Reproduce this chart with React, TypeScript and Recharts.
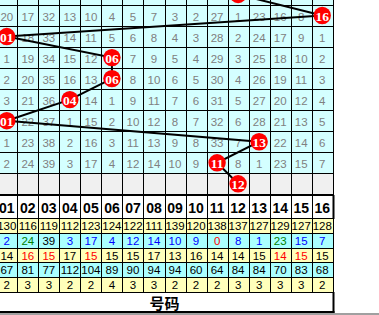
import React from 'react';
import { ComposedChart, Scatter, XAxis, YAxis, ReferenceLine } from 'recharts';

// ---------- data ----------
const ballNumbers = [1, 2, 3, 4, 5, 6, 7, 8, 9, 10, 11, 12, 13, 14, 15, 16];

// winning blue ball per draw row (first row is only partly visible, last row is the grey forecast row)
const hitBalls = [12, 16, 1, 6, 6, 4, 1, 13, 11, 12];

// omission (遗漏) values per draw row, columns 01..16 (null where the ball hit)
const missRowTop = [19, 16, 31, 12, 9, 3, 4, 6, 2, 1, 26, null, 22, 15, 7, 15];
const missRow1 = [20, 17, 32, 13, 10, 4, 5, 7, 3, 2, 27, 1, 23, 16, 8, null];
const missRow2 = [null, 18, 33, 14, 11, 5, 6, 8, 4, 3, 28, 2, 24, 17, 9, 1];
const missRow3 = [1, 19, 34, 15, 12, null, 7, 9, 5, 4, 29, 3, 25, 18, 10, 2];
const missRow4 = [2, 20, 35, 16, 13, null, 8, 10, 6, 5, 30, 4, 26, 19, 11, 3];
const missRow5 = [3, 21, 36, null, 14, 1, 9, 11, 7, 6, 31, 5, 27, 20, 12, 4];
const missRow6 = [null, 22, 37, 1, 15, 2, 10, 12, 8, 7, 32, 6, 28, 21, 13, 5];
const missRow7 = [1, 23, 38, 2, 16, 3, 11, 13, 9, 8, 33, 7, null, 22, 14, 6];
const missRow8 = [2, 24, 39, 3, 17, 4, 12, 14, 10, 9, null, 8, 1, 23, 15, 7];
const missRowForecast = [null, null, null, null, null, null, null, null, null, null, null, null, null, null, null, null];

// statistics rows
const statTimes = [130, 116, 119, 112, 123, 124, 122, 111, 139, 120, 138, 137, 127, 129, 127, 128];
const statCurMiss = [2, 24, 39, 3, 17, 4, 12, 14, 10, 9, 0, 8, 1, 23, 15, 7];
const statAvgMiss = [14, 16, 15, 17, 15, 15, 15, 17, 13, 16, 14, 14, 15, 14, 15, 15];
const statMaxMiss = [67, 81, 77, 112, 104, 89, 90, 94, 94, 60, 64, 84, 84, 70, 83, 68];
const statMaxRun = [2, 3, 3, 2, 2, 4, 3, 3, 2, 2, 2, 3, 3, 3, 3, 2];
const footerLabel = '号码';

// ---------- layout ----------
const W = 379;
const COL_W = 21.03;
const X_MIN = 0.6776;
const X_MAX = X_MIN + W / COL_W;
const TREND_H = 195;
const ROW_H = 21.04;
const Y_MIN = -0.7367;
const Y_MAX = Y_MIN + TREND_H / ROW_H;
const STATS_H = 120;
const HEAD_H = 23;
const FOOT_H = 19;
const STAT_ROW_H = 14.8;

const TREND_BG = '#d4ffff';
const GREY_BG = '#f0f0f0';
const YELLOW_BG = '#ffffbb';
const CYAN_BG = '#aaffff';

const pad = (n: number) => (n < 10 ? '0' + n : String(n));

const missRows = [
  missRowTop, missRow1, missRow2, missRow3, missRow4, missRow5, missRow6, missRow7, missRow8, missRowForecast,
];

const trendCells = missRows.flatMap((row, i) =>
  ballNumbers.map((c, j) => ({
    x: c,
    y: i - 1,
    label: row[j] == null ? null : String(row[j]),
    bg: i === missRows.length - 1 ? GREY_BG : TREND_BG,
  }))
);

const hitPoints = hitBalls.map((n, i) => ({ x: n, y: i - 1, label: pad(n) }));

const curMissColor = (v: number, avg: number) => {
  if (v === 0) return '#ff0000';
  if (v <= avg * 1.2) return '#0000ff';
  if (v <= avg * 2) return '#008000';
  return '#000000';
};

const statRows = [statTimes, statCurMiss, statAvgMiss, statMaxMiss, statMaxRun];
const statCells = statRows.flatMap((row, k) =>
  ballNumbers.map((c, j) => {
    let color = '#000';
    if (k === 1) color = curMissColor(row[j], statAvgMiss[j]);
    if (k === 2 && statCurMiss[j] >= statAvgMiss[j]) color = '#ff0000';
    return {
      x: c,
      y: k,
      label: String(row[j]),
      color,
      bg: k % 2 === 0 ? YELLOW_BG : CYAN_BG,
    };
  })
);

// ---------- shapes ----------
const TrendCell = (props: any) => {
  const { cx, cy, payload } = props;
  const x0 = Math.round(cx - COL_W / 2);
  const x1 = Math.round(cx + COL_W / 2);
  const y0 = Math.round(cy - ROW_H / 2);
  const y1 = Math.round(cy + ROW_H / 2);
  return (
    <g>
      <rect x={x0 + 0.5} y={y0 + 0.5} width={x1 - x0} height={y1 - y0} fill={payload.bg} stroke="#000" strokeWidth={1} />
      {payload.label != null && cy > 0 && (
        <text
          x={cx}
          y={cy + 1}
          textAnchor="middle"
          dominantBaseline="central"
          fontFamily="'Liberation Sans', Arial, sans-serif"
          fontSize={11.5}
          fill="#808080"
        >
          {payload.label}
        </text>
      )}
    </g>
  );
};

const Ball = (props: any) => {
  const { cx, cy, payload } = props;
  return (
    <g>
      <circle cx={cx} cy={cy} r={8.7} fill="#ff0000" />
      {cy > 0 && (
        <text
          x={cx}
          y={cy + 0.5}
          textAnchor="middle"
          dominantBaseline="central"
          fontFamily="'Liberation Serif', 'Times New Roman', serif"
          fontWeight="bold"
          fontSize={13.5}
          fill="#ffffff"
        >
          {payload.label}
        </text>
      )}
    </g>
  );
};

const StatCell = (props: any) => {
  const { cx, cy, payload } = props;
  const x0 = Math.round(cx - COL_W / 2);
  const x1 = Math.round(cx + COL_W / 2);
  const y0 = Math.round(cy - STAT_ROW_H / 2);
  const y1 = Math.round(cy + STAT_ROW_H / 2);
  return (
    <g>
      <rect x={x0 + 0.5} y={y0 + 0.5} width={x1 - x0} height={y1 - y0} fill={payload.bg} stroke="#000" strokeWidth={1} />
      <text
        x={cx}
        y={cy + 0.5}
        textAnchor="middle"
        dominantBaseline="central"
        fontFamily="'Liberation Sans', Arial, sans-serif"
        fontSize={11.5}
        fill={payload.color}
      >
        {payload.label}
      </text>
    </g>
  );
};

const HeaderTick = (props: any) => {
  const { x, y, payload } = props;
  const x0 = Math.round(x - COL_W / 2);
  const x1 = Math.round(x + COL_W / 2);
  const y1 = Math.round(y);
  const y0 = y1 - HEAD_H;
  return (
    <g>
      <rect x={x0 + 0.5} y={y0 + 0.5} width={x1 - x0} height={HEAD_H} fill="#ffffff" stroke="#000" strokeWidth={1} />
      {payload.value === ballNumbers[ballNumbers.length - 1] && (
        <line x1={x1 + 0.5} x2={x1 + 0.5} y1={y0} y2={y1 + 1} stroke="#000" strokeWidth={2} />
      )}
      <text
        x={x}
        y={y0 + HEAD_H / 2 + 1}
        textAnchor="middle"
        dominantBaseline="central"
        fontFamily="'Liberation Sans', Arial, sans-serif"
        fontWeight="bold"
        fontSize={14}
        fill="#000"
      >
        {pad(payload.value)}
      </text>
    </g>
  );
};

const FooterTick = (props: any) => {
  const { x, y } = props;
  const x0 = Math.round(x - 8 * COL_W);
  const x1 = Math.round(x + 8 * COL_W);
  const y0 = Math.round(y);
  return (
    <g>
      <rect x={x0 + 0.5} y={y0 + 0.5} width={x1 - x0} height={FOOT_H} fill="#ffffff" stroke="#000" strokeWidth={1} />
      <line x1={x1 + 0.5} x2={x1 + 0.5} y1={y0} y2={y0 + FOOT_H + 2} stroke="#000" strokeWidth={2} />
      <line x1={0} x2={x1 + 1.5} y1={y0 + FOOT_H + 1} y2={y0 + FOOT_H + 1} stroke="#000" strokeWidth={2} />
      <line x1={0} x2={W} y1={y0 + FOOT_H + 3} y2={y0 + FOOT_H + 3} stroke="#a0a0a0" strokeWidth={2} />
      <text
        x={x}
        y={y0 + FOOT_H / 2 + 0.5}
        textAnchor="middle"
        dominantBaseline="central"
        fontFamily="'Noto Sans CJK SC', sans-serif"
        fontWeight="bold"
        fontSize={15}
        fill="#000"
      >
        {footerLabel}
      </text>
    </g>
  );
};

export default function App() {
  return (
    <div style={{ position: 'absolute', left: 0, top: 0, width: W, height: TREND_H + STATS_H, background: '#fff' }}>
      <ComposedChart width={W} height={TREND_H} margin={{ top: 0, right: 0, bottom: 0, left: 0 }}>
        <XAxis type="number" dataKey="x" domain={[X_MIN, X_MAX]} allowDataOverflow hide />
        <YAxis type="number" dataKey="y" domain={[Y_MIN, Y_MAX]} allowDataOverflow reversed hide />
        <Scatter data={trendCells} shape={TrendCell} isAnimationActive={false} />
        <ReferenceLine
          segment={[{ x: X_MIN, y: 8.5 }, { x: 16.5, y: 8.5 }]}
          stroke="#000"
          strokeWidth={3}
        />
        <ReferenceLine x={16.5} stroke="#000" strokeWidth={2} />
        <Scatter
          data={hitPoints}
          shape={Ball}
          line={{ stroke: '#000', strokeWidth: 2 }}
          isAnimationActive={false}
        />
      </ComposedChart>
      <ComposedChart width={W} height={STATS_H} margin={{ top: 0, right: 0, bottom: 3, left: 0 }}>
        <XAxis
          type="number"
          dataKey="x"
          orientation="top"
          height={HEAD_H}
          domain={[X_MIN, X_MAX]}
          allowDataOverflow
          ticks={ballNumbers}
          interval={0}
          tick={HeaderTick}
          tickLine={false}
          axisLine={false}
          tickSize={0}
          tickMargin={0}
        />
        <XAxis
          xAxisId="foot"
          type="number"
          dataKey="x"
          orientation="bottom"
          height={FOOT_H + 1}
          domain={[X_MIN, X_MAX]}
          allowDataOverflow
          ticks={[8.5]}
          interval={0}
          tick={FooterTick}
          tickLine={false}
          axisLine={false}
          tickSize={0}
          tickMargin={0}
        />
        <YAxis type="number" dataKey="y" domain={[-0.5, 4.5]} allowDataOverflow reversed hide />
        <Scatter data={statCells} shape={StatCell} isAnimationActive={false} />
        <ReferenceLine x={16.5} stroke="#000" strokeWidth={2} />
      </ComposedChart>
    </div>
  );
}
